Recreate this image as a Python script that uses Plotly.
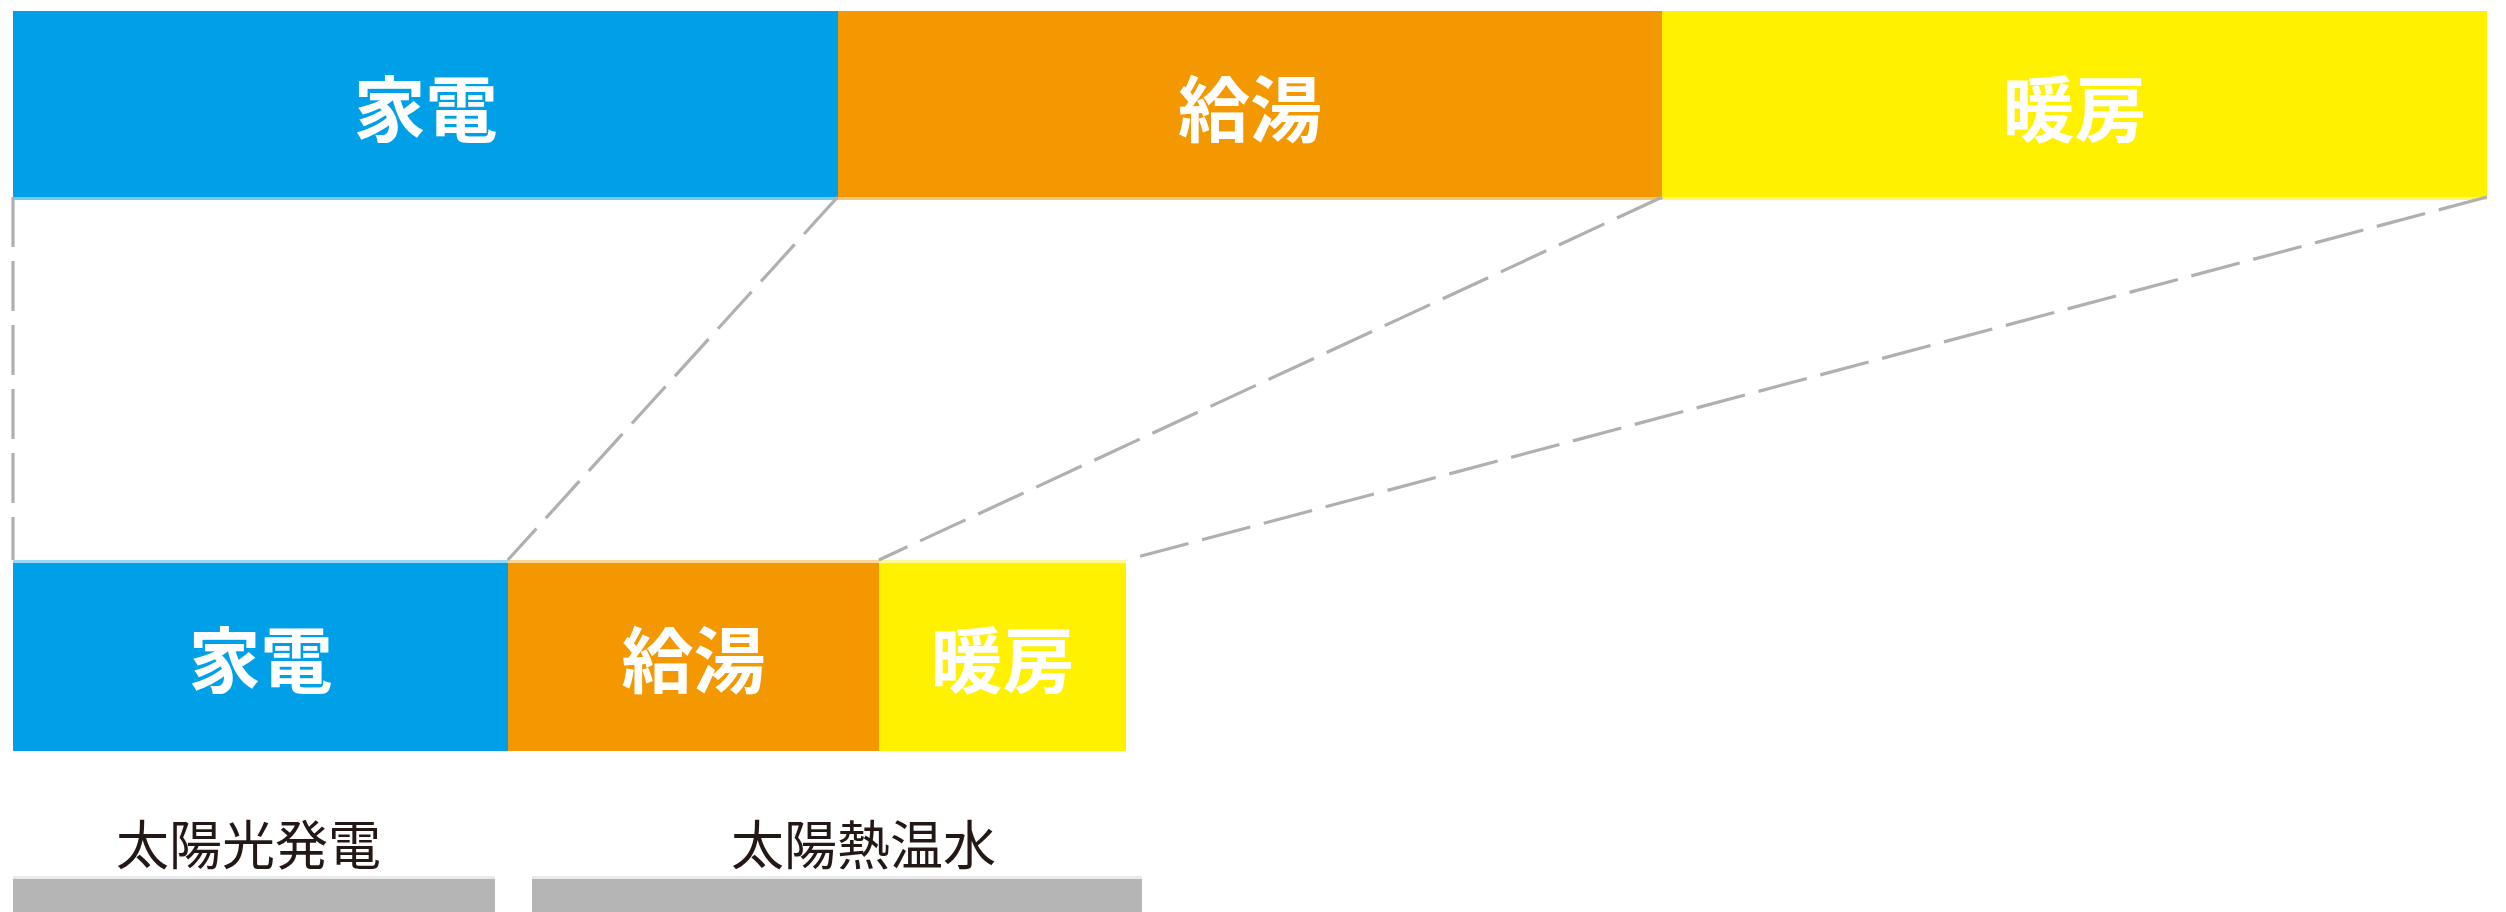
import numpy as np
import plotly.graph_objects as go

# Household energy use, before and after saving measures (relative units)
USES = ["家電", "給湯", "暖房"]
BEFORE = [100, 100, 100]
AFTER = [60, 45, 30]
USE_COLORS = ["#00a0e9", "#f39800", "#fff100"]

# On-site renewable supply
SOLAR_LABELS = ["太陽光発電", "太陽熱温水"]
SOLAR_VALUES = [58.5, 74]
SOLAR_COLOR = "#b4b5b4"

# ---- layout constants (pixels / axis units) ----
W, H = 2506, 912
X0_PX = 13
PX_PER_UNIT = 2474 / 300
X_RANGE = [-X0_PX / PX_PER_UNIT, (W - X0_PX) / PX_PER_UNIT]

# y axis runs top-down in pixel units; each row = (center, thickness)
ROW_BEFORE = (104, 186)
ROW_AFTER = (655.5, 191)
ROW_SOLAR = (925, 92)
SOLAR_GAP = 4.4
SOLAR_LABEL_Y = 842
SOLAR_LABEL_SHIFT = [-6, 27]
EDGE = 3  # thickness of the soft highlight along bar edges

JP_FONT = "Noto Sans CJK JP"


def bases(values, gap=0.0):
    out, acc = [], 0.0
    for v in values:
        out.append(acc)
        acc += v + gap
    return out


def tint(hex_color, amount):
    """Blend a colour toward white."""
    h = hex_color.lstrip("#")
    rgb = [int(h[i:i + 2], 16) for i in (0, 2, 4)]
    rgb = [round(c + (255 - c) * amount) for c in rgb]
    return "rgb({},{},{})".format(*rgb)


fig = go.Figure()


def use_row(values, row, edge_y, edge_tint):
    center, thick = row
    fig.add_trace(go.Bar(
        orientation="h",
        y=[center] * len(values),
        x=values,
        base=bases(values),
        width=thick,
        marker=dict(color=USE_COLORS, line=dict(width=0)),
        text=USES,
        textposition="inside",
        insidetextanchor="middle",
        textangle=0,
        textfont=dict(family=JP_FONT, size=72, color="white", weight=700),
        hoverinfo="skip",
        showlegend=False,
    ))
    # soft highlight strip along one long edge
    fig.add_trace(go.Bar(
        orientation="h",
        y=[edge_y] * len(values),
        x=values,
        base=bases(values),
        width=EDGE,
        marker=dict(color=[tint(c, edge_tint) for c in USE_COLORS], line=dict(width=0)),
        hoverinfo="skip",
        showlegend=False,
    ))


use_row(BEFORE, ROW_BEFORE, ROW_BEFORE[0] + ROW_BEFORE[1] / 2 + EDGE / 2, 0.45)
use_row(AFTER, ROW_AFTER, ROW_AFTER[0] - ROW_AFTER[1] / 2 + EDGE / 2, 0.6)

# dashed connectors between matching segment boundaries
cum_before = np.concatenate([[0], np.cumsum(BEFORE)])
cum_after = np.concatenate([[0], np.cumsum(AFTER)])
y_from = ROW_BEFORE[0] + ROW_BEFORE[1] / 2
y_to = ROW_AFTER[0] - ROW_AFTER[1] / 2
for xb, xa in zip(cum_before, cum_after):
    fig.add_trace(go.Scatter(
        x=[xb, xa], y=[y_from, y_to],
        mode="lines",
        line=dict(color="#b0b0b0", width=3.2, dash="50px,14px"),
        hoverinfo="skip", showlegend=False, cliponaxis=False,
    ))

# renewable supply bars
s_base = bases(SOLAR_VALUES, SOLAR_GAP)
fig.add_trace(go.Bar(
    orientation="h",
    y=[ROW_SOLAR[0]] * len(SOLAR_VALUES),
    x=SOLAR_VALUES,
    base=s_base,
    width=ROW_SOLAR[1],
    marker=dict(color=SOLAR_COLOR, line=dict(width=0)),
    hoverinfo="skip",
    showlegend=False,
))
fig.add_trace(go.Bar(
    orientation="h",
    y=[ROW_SOLAR[0] - ROW_SOLAR[1] / 2 - EDGE / 2] * len(SOLAR_VALUES),
    x=SOLAR_VALUES,
    base=s_base,
    width=EDGE,
    marker=dict(color=tint(SOLAR_COLOR, 0.7), line=dict(width=0)),
    hoverinfo="skip",
    showlegend=False,
))

for lbl, b, v, dx in zip(SOLAR_LABELS, s_base, SOLAR_VALUES, SOLAR_LABEL_SHIFT):
    fig.add_annotation(
        x=b + v / 2, y=SOLAR_LABEL_Y, xref="x", yref="y",
        text=lbl, showarrow=False, xshift=dx,
        font=dict(family=JP_FONT, size=53, color="#231815"),
    )

fig.update_layout(
    width=W, height=H,
    margin=dict(l=0, r=0, t=0, b=0),
    paper_bgcolor="white", plot_bgcolor="white",
    barmode="overlay",
    bargap=0,
    xaxis=dict(range=X_RANGE, visible=False, fixedrange=True),
    yaxis=dict(range=[H, 0], visible=False, fixedrange=True),
    hovermode=False,
)

fig.write_html("out.html", config={"displayModeBar": False})
